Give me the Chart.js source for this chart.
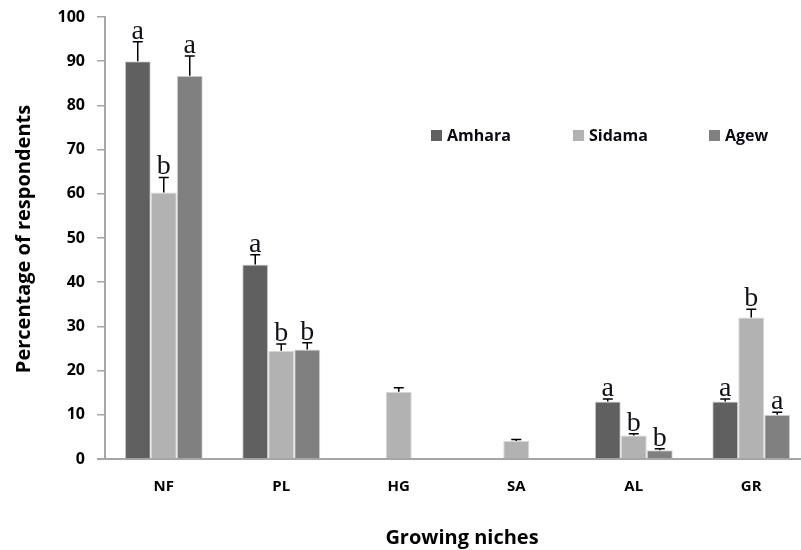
<!DOCTYPE html>
<html>
<head>
<meta charset="utf-8">
<script src="https://cdn.jsdelivr.net/npm/chart.js@4.4.1/dist/chart.umd.min.js"></script>
<style>
  html, body { margin: 0; padding: 0; background: #fff; overflow: hidden; }
  #wrap { width: 812px; height: 550px; }
</style>
</head>
<body>
<div id="wrap"><canvas id="chart" width="812" height="550"></canvas></div>
<script>
// growing niches
const niches = ['NF', 'PL', 'HG', 'SA', 'AL', 'GR'];

// percentage of respondents per region
const amhara = [90, 44, 0, 0, 13, 13];
const sidama = [60.3, 24.5, 15.2, 4.1, 5.3, 32];
const agew = [86.7, 24.8, 0, 0, 2, 10];

// upper error (standard error)
const amharaErr = [4.4, 2.2, 0, 0, 0.6, 0.6];
const sidamaErr = [3.4, 1.5, 0.9, 0.3, 0.4, 1.9];
const agewErr = [4.5, 1.5, 0, 0, 0.3, 0.6];

// significance letters
const amharaLetters = ['a', 'a', '', '', 'a', 'a'];
const sidamaLetters = ['b', 'b', '', '', 'b', 'b'];
const agewLetters = ['a', 'b', '', '', 'b', 'a'];

const yTicks = [0, 10, 20, 30, 40, 50, 60, 70, 80, 90, 100];

const FONT = '"Open Sans", Lato, sans-serif';

// error bars + letters drawn from the scales
const errorBarPlugin = {
  id: 'errorBars',
  afterDatasetsDraw(chart) {
    const ctx = chart.ctx;
    const y = chart.scales.y;
    chart.data.datasets.forEach((ds, i) => {
      const meta = chart.getDatasetMeta(i);
      meta.data.forEach((bar, j) => {
        const v = ds.data[j];
        if (!v) return;
        const err = ds.errors[j] || 0;
        const yTop = y.getPixelForValue(v + err);
        const yBar = y.getPixelForValue(v);
        ctx.save();
        ctx.strokeStyle = '#000';
        ctx.lineWidth = 1.5;
        ctx.beginPath();
        ctx.moveTo(bar.x, yBar);
        ctx.lineTo(bar.x, yTop);
        ctx.moveTo(bar.x - 5, yTop);
        ctx.lineTo(bar.x + 5, yTop);
        ctx.stroke();
        const letter = ds.letters[j];
        if (letter) {
          ctx.fillStyle = '#10121a';
          ctx.font = '28px "Liberation Serif", "Times New Roman", serif';
          ctx.textAlign = 'center';
          ctx.textBaseline = 'alphabetic';
          ctx.fillText(letter, bar.x, yTop - 3);
        }
        ctx.restore();
      });
    });
  }
};

// axis titles and legend in the plot
const decorPlugin = {
  id: 'decor',
  afterDraw(chart) {
    const ctx = chart.ctx;
    const area = chart.chartArea;
    ctx.save();
    ctx.fillStyle = '#000';
    ctx.font = 'bold 20px ' + FONT;
    ctx.textAlign = 'center';
    ctx.textBaseline = 'middle';
    ctx.fillText('Growing niches', 462, 538);

    ctx.translate(24, 239);
    ctx.rotate(-Math.PI / 2);
    ctx.font = 'bold 20px ' + FONT;
    ctx.fillText('Percentage of respondents', 0, 0);
    ctx.restore();

    // legend
    const xs = [431, 573, 709];
    ctx.save();
    ctx.font = 'bold 16px ' + FONT;
    ctx.textBaseline = 'middle';
    ctx.textAlign = 'left';
    chart.data.datasets.forEach((ds, i) => {
      ctx.fillStyle = ds.backgroundColor;
      ctx.fillRect(xs[i], 130, 11, 11);
      ctx.fillStyle = '#0a0a14';
      ctx.fillText(ds.label, xs[i] + 16, 136);
    });
    ctx.restore();

    // x axis line extends a little left of the y axis
    ctx.save();
    ctx.strokeStyle = '#a6a6a6';
    ctx.lineWidth = 2;
    ctx.beginPath();
    ctx.moveTo(area.left - 8, area.bottom);
    ctx.lineTo(area.left, area.bottom);
    ctx.stroke();
    ctx.restore();
  }
};

const ctx = document.getElementById('chart').getContext('2d');
new Chart(ctx, {
  type: 'bar',
  data: {
    labels: niches,
    datasets: [
      { label: 'Amhara', data: amhara, errors: amharaErr, letters: amharaLetters, backgroundColor: '#606060' },
      { label: 'Sidama', data: sidama, errors: sidamaErr, letters: sidamaLetters, backgroundColor: '#b2b2b2' },
      { label: 'Agew', data: agew, errors: agewErr, letters: agewLetters, backgroundColor: '#808080' }
    ].map(d => Object.assign(d, { borderColor: '#d8d8d8', borderWidth: 1, categoryPercentage: 0.664, barPercentage: 1 }))
  },
  options: {
    responsive: false,
    animation: false,
    layout: { padding: { top: 17, right: 2, left: 0, bottom: 0 } },
    plugins: { legend: { display: false }, tooltip: { enabled: false } },
    scales: {
      x: {
        grid: { display: false, drawTicks: false },
        border: { display: true, color: '#a6a6a6', width: 2 },
        ticks: { color: '#000', font: { family: FONT, size: 15, weight: 'bold' }, padding: 19 },
        afterFit(scale) { scale.height = 91; scale.paddingLeft = 0; scale.paddingRight = 0; }
      },
      y: {
        min: 0,
        max: 100,
        afterBuildTicks(scale) { scale.ticks = yTicks.map(v => ({ value: v })); },
        grid: { drawOnChartArea: false, drawTicks: true, tickLength: 8, color: '#a6a6a6', lineWidth: 1.5 },
        border: { display: true, color: '#a6a6a6', width: 2 },
        ticks: { color: '#000', font: { family: FONT, size: 16, weight: 'bold' }, padding: 12 },
        afterFit(scale) { scale.width = 105; scale.paddingTop = 0; scale.paddingBottom = 0; }
      }
    }
  },
  plugins: [errorBarPlugin, decorPlugin]
});
</script>
</body>
</html>
